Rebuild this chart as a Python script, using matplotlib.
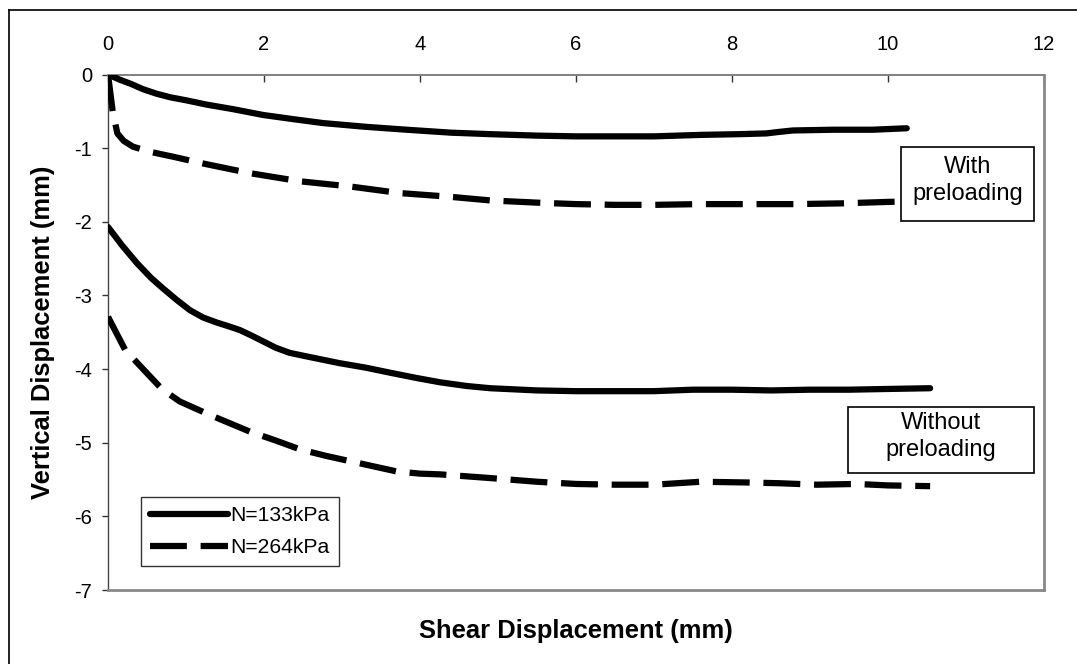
import matplotlib
matplotlib.use("Agg")
import matplotlib.pyplot as plt
from matplotlib.lines import Line2D
from matplotlib.patches import Rectangle

plt.rcParams['font.family'] = ['Liberation Sans', 'DejaVu Sans']

# Shear displacement (mm) vs vertical displacement (mm)
x_pre_133 = [0, 0.15, 0.3, 0.45, 0.62, 0.8, 1.0, 1.27, 1.6, 1.99, 2.4, 2.76,
             3.3, 3.83, 4.4, 4.9, 5.5, 6.0, 6.5, 7.0, 7.6, 8.1, 8.44, 8.6,
             8.78, 9.3, 9.8, 10.24]
y_pre_133 = [0, -0.07, -0.13, -0.2, -0.26, -0.31, -0.35, -0.41, -0.47, -0.55,
             -0.61, -0.66, -0.71, -0.75, -0.79, -0.81, -0.83, -0.84, -0.84,
             -0.84, -0.82, -0.81, -0.80, -0.78, -0.76, -0.75, -0.75, -0.73]

x_pre_264 = [0, 0.06, 0.12, 0.2, 0.32, 0.54, 0.85, 1.18, 1.5, 1.82, 2.46, 3.1,
             3.74, 4.38, 4.9, 5.5, 6.0, 6.5, 7.0, 7.6, 8.2, 8.8, 9.4, 10.0, 10.5]
y_pre_264 = [0, -0.5, -0.80, -0.9, -0.98, -1.05, -1.12, -1.2, -1.27, -1.34,
             -1.45, -1.52, -1.61, -1.66, -1.71, -1.74, -1.76, -1.77, -1.77,
             -1.76, -1.76, -1.76, -1.75, -1.73, -1.72]

x_no_133 = [0, 0.18, 0.37, 0.55, 0.7, 0.88, 1.05, 1.22, 1.4, 1.55, 1.69, 1.85,
            2.0, 2.15, 2.33, 2.6, 2.97, 3.3, 3.62, 3.95, 4.26, 4.6, 4.9, 5.5,
            6.0, 6.5, 7.0, 7.5, 8.0, 8.5, 9.0, 9.5, 10.0, 10.54]
y_no_133 = [-2.07, -2.32, -2.56, -2.76, -2.9, -3.06, -3.2, -3.3, -3.37, -3.42,
            -3.47, -3.55, -3.63, -3.71, -3.78, -3.84, -3.92, -3.98, -4.05,
            -4.12, -4.18, -4.23, -4.26, -4.29, -4.3, -4.3, -4.3, -4.28, -4.28,
            -4.29, -4.28, -4.28, -4.27, -4.26]

x_no_264 = [0, 0.22, 0.45, 0.69, 0.92, 1.3, 1.82, 2.15, 2.46, 2.8, 3.1, 3.4,
            3.7, 4.0, 4.26, 4.9, 5.5, 6.0, 6.5, 7.0, 7.6, 8.2, 8.6, 9.09, 9.6,
            10.0, 10.54]
y_no_264 = [-3.29, -3.74, -4.0, -4.27, -4.44, -4.62, -4.85, -4.97, -5.09,
            -5.18, -5.25, -5.32, -5.39, -5.42, -5.43, -5.48, -5.53, -5.56,
            -5.57, -5.57, -5.53, -5.54, -5.55, -5.57, -5.56, -5.58, -5.59]

x_ticks = [0, 2, 4, 6, 8, 10, 12]
y_ticks = [0, -1, -2, -3, -4, -5, -6, -7]

W, H = 1077, 664
fig = plt.figure(figsize=(W / 100, H / 100), dpi=100)
fig.patch.set_facecolor('white')

# plot area in pixel coordinates
L, R, T, B = 108, 1044, 74.5, 590
ax = fig.add_axes([L / W, 1 - B / H, (R - L) / W, (B - T) / H])

lw = 4.5
dash = (5.9, 2.2)

ax.plot(x_pre_133, y_pre_133, color='black', lw=lw, solid_capstyle='round',
        solid_joinstyle='round', label='N=133kPa', zorder=3)
ax.plot(x_pre_264, y_pre_264, color='black', lw=lw, dashes=dash,
        dash_capstyle='butt', dash_joinstyle='round', label='N=264kPa',
        zorder=3)
ax.plot(x_no_133, y_no_133, color='black', lw=lw, solid_capstyle='round',
        solid_joinstyle='round', zorder=3)
ax.plot(x_no_264, y_no_264, color='black', lw=lw, dashes=dash,
        dash_capstyle='butt', dash_joinstyle='round', zorder=3)

ax.set_xlim(0, 12)
ax.set_ylim(-7, 0)
ax.set_xticks(x_ticks)
ax.set_yticks(y_ticks)
ax.set_xticklabels([str(v) for v in x_ticks])
ax.set_yticklabels([str(v) for v in y_ticks])

ax.xaxis.tick_top()
ax.tick_params(axis='x', direction='in', length=5, width=1, color='#333333',
               labelsize=14.5, pad=14.5)
ax.tick_params(axis='y', direction='out', length=4.5, width=1, color='#333333',
               labelsize=14.5, pad=7)

ax.spines['left'].set_color('#444444')
ax.spines['left'].set_linewidth(1.0)
ax.spines['top'].set_color('#808080')
ax.spines['top'].set_linewidth(1.4)
for s in ('right', 'bottom'):
    ax.spines[s].set_color('#888888')
    ax.spines[s].set_linewidth(2.0)

fig.text((L + R) / 2 / W, 1 - 631 / H, 'Shear Displacement (mm)',
         ha='center', va='center', fontsize=18.4, fontweight='bold')
fig.text(43 / W, 1 - (T + B) / 2 / H, 'Vertical Displacement (mm)',
         ha='center', va='center', rotation=90, fontsize=18.4,
         fontweight='bold')

leg = ax.legend(loc='lower left', bbox_to_anchor=(0.0353, 0.0466),
                borderaxespad=0, fontsize=15.2, frameon=True, fancybox=False,
                handlelength=3.7, handletextpad=0.12, borderpad=0.42,
                labelspacing=0.62)
leg.get_frame().set_edgecolor('black')
leg.get_frame().set_linewidth(1.0)

# annotation boxes
for (x0, x1, y0, y1), text in [((0.8472, 0.9893, 0.7158, 0.8594), 'With\npreloading'),
                                ((0.7906, 0.9893, 0.2270, 0.3550), 'Without\npreloading')]:
    ax.add_patch(Rectangle((x0, y0), x1 - x0, y1 - y0, transform=ax.transAxes,
                           facecolor='white', edgecolor='black', lw=1.2,
                           zorder=5))
    ax.text((x0 + x1) / 2, (y0 + y1) / 2 + 0.007, text,
            transform=ax.transAxes, ha='center', va='center', fontsize=17,
            linespacing=1.3, zorder=6)

# outer chart frame
fig.add_artist(Line2D([9 / W, 1.0], [1 - 10 / H, 1 - 10 / H],
                      transform=fig.transFigure, color='black', lw=1.2))
fig.add_artist(Line2D([9 / W, 9 / W], [0.0, 1 - 10 / H],
                      transform=fig.transFigure, color='black', lw=1.2))

fig.savefig('out.png', dpi=100, facecolor='white')
